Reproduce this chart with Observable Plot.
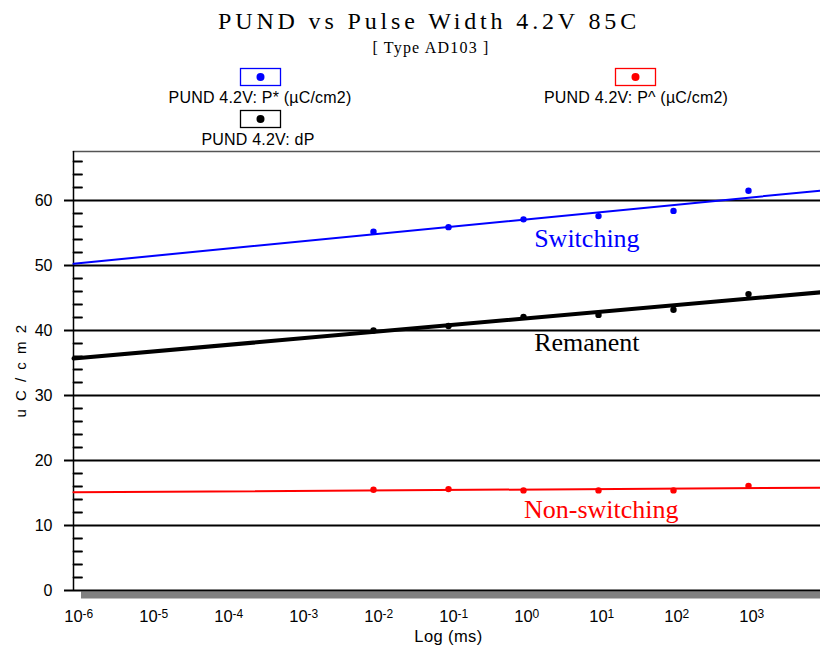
<!DOCTYPE html>
<html><head><meta charset="utf-8">
<script src="https://cdn.jsdelivr.net/npm/d3@7"></script>
<script src="https://cdn.jsdelivr.net/npm/@observablehq/plot@0.6"></script>
<style>
body{margin:0;background:#fff}
#wrap{width:820px;height:653px;overflow:hidden;background:#fff}
svg{display:block}
</style></head><body><div id="wrap"></div>
<script>
// ---- data ----
const pulseWidthMs = [0.01, 0.1, 1, 10, 100, 1000];
const switchingP = [55.2, 55.9, 57.1, 57.6, 58.4, 61.5];
const remanentP = [40.0, 40.7, 42.1, 42.4, 43.2, 45.6];
const nonSwitchingP = [15.5, 15.6, 15.4, 15.4, 15.4, 16.1];
const seriesNames = ["PUND 4.2V: P* (µC/cm2)", "PUND 4.2V: dP", "PUND 4.2V: P^ (µC/cm2)"];
const seriesColors = ["#0000ff", "#000000", "#ff0000"];
const annotationLabels = ["Switching", "Remanent", "Non-switching"];
const annotationX = [7.0, 7.0, 10.9];
const annotationY = [54.15, 38.15, 12.5];
const xTickValues = [1e-6, 1e-5, 1e-4, 1e-3, 1e-2, 1e-1, 1e0, 1e1, 1e2, 1e3];
const xTickExponents = ["-6", "-5", "-4", "-3", "-2", "-1", "0", "1", "2", "3"];
const yMajorTicks = [0, 10, 20, 30, 40, 50, 60];
const yMinorTicks = [2, 4, 6, 8, 12, 14, 16, 18, 22, 24, 26, 28, 32, 34, 36, 38, 42, 44, 46, 48, 52, 54, 56, 58, 62, 64, 66];
const titleText = "PUND vs Pulse Width 4.2V 85C";
const subtitleText = "[ Type AD103 ]";
const xLabel = ["Log (ms)"];
const xLabelAt = [0.1];
const yLabel = ["u C / c m 2"];
const xDomain = [1e-6, Math.pow(10, 3.96)];
const yDomain = [0, 67.54];

const SANS = "'Liberation Sans', Arial, sans-serif";
const SERIF = "'Liberation Serif', 'Times New Roman', serif";

// ---- header: title + legend ----
const header = d3.create("svg").attr("width", 820).attr("height", 149);
header.append("text").attr("x", 429).attr("y", 29).attr("text-anchor", "middle")
  .attr("font-family", SERIF).attr("font-size", 24).attr("letter-spacing", "3.85px").attr("fill", "#000").text(titleText);
header.append("text").attr("x", 431).attr("y", 53).attr("text-anchor", "middle")
  .attr("font-family", SERIF).attr("font-size", 16).attr("letter-spacing", "1.2px").attr("fill", "#000").text(subtitleText);
const legendLayout = [
  {box: [240, 68], text: [260, 103]},
  {box: [240, 110], text: [258, 145]},
  {box: [615, 68], text: [636, 103]}
];
seriesNames.forEach((name, i) => {
  const L = legendLayout[i];
  header.append("rect").attr("x", L.box[0] + 0.5).attr("y", L.box[1] + 0.5).attr("width", 40).attr("height", 17)
    .attr("fill", "#fff").attr("stroke", seriesColors[i]).attr("stroke-width", 1.3);
  header.append("circle").attr("cx", L.box[0] + 20.5).attr("cy", L.box[1] + 9).attr("r", 4).attr("fill", seriesColors[i]);
  header.append("text").attr("x", L.text[0]).attr("y", L.text[1]).attr("text-anchor", "middle")
    .attr("font-family", SANS).attr("font-size", 16).attr("letter-spacing", "0.2px").attr("fill", "#000").text(name);
});
document.getElementById("wrap").appendChild(header.node());

// ---- fits in log10(x) space ----
function fit(ys) {
  const xs = pulseWidthMs.map(Math.log10);
  const mx = d3.mean(xs), my = d3.mean(ys);
  const b = d3.sum(xs, (x, i) => (x - mx) * (ys[i] - my)) / d3.sum(xs, x => (x - mx) ** 2);
  const a = my - b * mx;
  return x => a + b * Math.log10(x);
}
const seriesValues = [switchingP, remanentP, nonSwitchingP];
const fitWidths = [2, 4, 2];

const points = [];
seriesValues.forEach((vals, s) => vals.forEach((v, i) => points.push({x: pulseWidthMs[i], y: v, s})));

const tickShape = {draw(ctx, l) { ctx.moveTo(0, 0); ctx.lineTo(0, -l); }};

const marks = [
  Plot.frame({anchor: "top", stroke: "#555", strokeWidth: 1.5}),
  // gray floor bar
  Plot.ruleY([0], {stroke: "#808080", strokeWidth: 7, dy: 4.5, insetLeft: 8}),
  // gridlines
  Plot.ruleY(yMajorTicks, {stroke: "#000", strokeWidth: 2}),
  // y axis line
  Plot.ruleX([xDomain[0]], {y1: 0, y2: yDomain[1], stroke: "#000", strokeWidth: 1.5}),
  Plot.axisY({ticks: yMajorTicks, tickSize: 9, tickPadding: 12, tickFormat: d => String(d), fontSize: 16, fontFamily: SANS, strokeWidth: 2, label: null}),
  Plot.vector(yMinorTicks, {y: d => d, frameAnchor: "left", length: 8.5, rotate: 90, anchor: "start", shape: tickShape, stroke: "#000", strokeWidth: 1.8}),
  // x tick labels
  Plot.text(xTickValues, {x: d => d, text: () => "10", frameAnchor: "bottom", dy: 31, fontSize: 16.5, fontFamily: SANS, fill: "#000"}),
  Plot.text(xTickValues, {x: d => d, text: (d, i) => xTickExponents[i], frameAnchor: "bottom", dy: 27, dx: 9, textAnchor: "start", fontSize: 12, fontFamily: SANS, fill: "#000"}),
  Plot.text(xLabel, {x: () => xLabelAt[0], text: d => d, frameAnchor: "bottom", dy: 51, fontSize: 16.5, fontFamily: SANS, fill: "#000"}),
  Plot.text(yLabel, {text: d => d, frameAnchor: "left", rotate: -90, textAnchor: "start", dx: -52, dy: 46.5, fontSize: 15, fontFamily: SANS, fill: "#000"}),
  // fit lines
  ...seriesValues.map((vals, s) => {
    const f = fit(vals);
    return Plot.line(xDomain, {x: d => d, y: d => f(d), stroke: seriesColors[s], strokeWidth: fitWidths[s]});
  }),
  // data points
  Plot.dot(points, {x: "x", y: "y", r: 3.2, fill: d => seriesColors[d.s], stroke: null}),
  // annotations
  Plot.text(annotationLabels, {x: (d, i) => annotationX[i], y: (d, i) => annotationY[i], text: d => d, fill: (d, i) => seriesColors[i], fontSize: 26, fontFamily: SERIF, lineAnchor: "middle"})
];

const chart = Plot.plot({
  width: 820,
  height: 504,
  marginTop: 2,
  marginLeft: 73,
  marginRight: 0,
  marginBottom: 63,
  style: {background: "#fff", overflow: "visible"},
  x: {type: "log", domain: xDomain, axis: null},
  y: {domain: yDomain, axis: null},
  color: {type: "identity"},
  marks
});
d3.select(chart).selectAll("text").filter(function () { return this.textContent === yLabel[0]; })
  .style("letter-spacing", "2px");
d3.select(chart).selectAll("text").filter(function () { return this.textContent === xLabel[0]; })
  .style("letter-spacing", "0.4px");
document.getElementById("wrap").appendChild(chart);
</script></body></html>
